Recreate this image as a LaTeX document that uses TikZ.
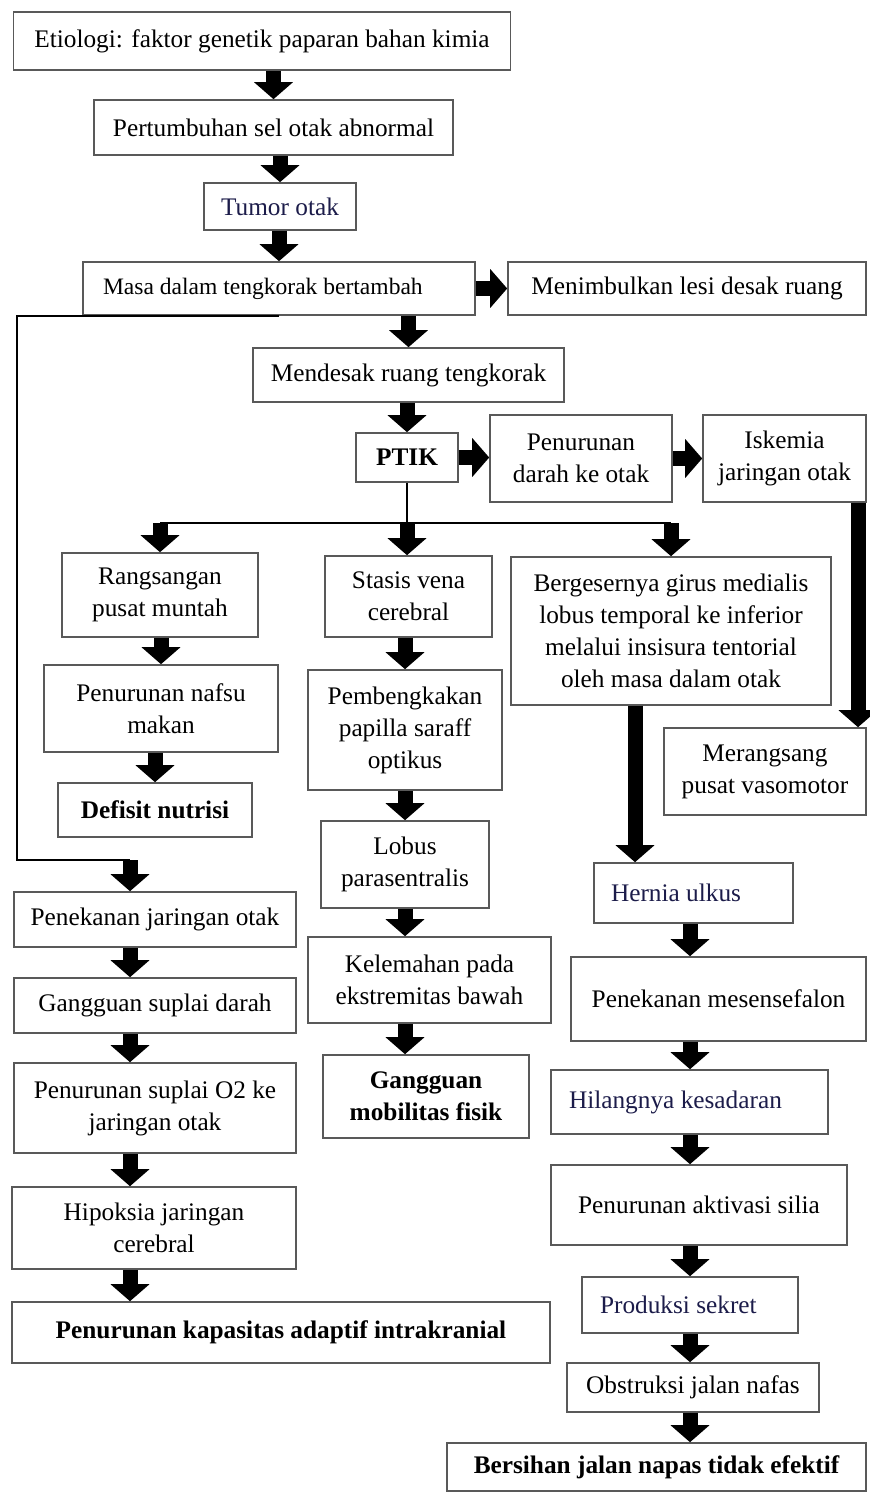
\documentclass[tikz,border=0pt]{standalone}
\usepackage{fontspec}
\setmainfont{Liberation Serif}
\usepackage{tikz}
\usetikzlibrary{arrows.meta}
\definecolor{fcnavy}{HTML}{1C1C4A}
\tikzset{
  fc/box/.style={draw=black!65, line width=0.9pt, fill=white, align=center, inner sep=2pt, font=\fontsize{14.4}{18.2}\selectfont},
  fc/key/.style={fc/box, font=\fontsize{14.4}{18.2}\selectfont\bfseries},
  fc/wh/.style 2 args={minimum width=#1*0.02cm, minimum height=#2*0.02cm},
  fc/lefttext/.style 2 args={text width=#1, inner xsep=#2, align=flush left},
  fc/arr/.style={line width=0.3cm, -{Triangle[width=0.76cm,length=0.34cm]}},
  fc/line/.style={line width=1.1pt}
}

\begin{document}
\begin{tikzpicture}[x=0.02cm, y=-0.02cm]
  \useasboundingbox (0,0) rectangle (869,1493);

  % main trunk
  \node[fc/box, fc/wh={497}{58}] (etio) at (262,41) {Etiologi: faktor genetik paparan bahan kimia};
  \node[fc/box, fc/wh={359}{55}] (pert) at (273.5,127.5) {Pertumbuhan sel otak abnormal};
  \node[fc/box, fc/wh={152}{47}, text=fcnavy] (tumor) at (280,206.5) {Tumor otak};
  \node[fc/box, fc/wh={392}{53}, fc/lefttext={7.04cm}{0.4cm}, font=\fontsize{13.4}{18.2}\selectfont] (masa) at (279,288.5) {Masa dalam tengkorak bertambah};
  \node[fc/box, fc/wh={358}{53}] (lesi) at (687,288.5) {Menimbulkan lesi desak ruang};
  \node[fc/box, fc/wh={311}{54}] (desak) at (408.5,375) {Mendesak ruang tengkorak};
  \node[fc/key, fc/wh={102}{49}] (ptik) at (407,457.5) {PTIK};
  \node[fc/box, fc/wh={182}{87}] (darah) at (581,458.5) {Penurunan\\darah ke otak};
  \node[fc/box, fc/wh={163}{87}] (iskemia) at (784.5,458.5) {Iskemia\\jaringan otak};

  % left branch
  \node[fc/box, fc/wh={196}{84}] (muntah) at (160,595) {Rangsangan\\pusat muntah};
  \node[fc/box, fc/wh={234}{87}] (nafsu) at (161,708.5) {Penurunan nafsu\\makan};
  \node[fc/key, fc/wh={194}{54}] (nutrisi) at (155,810) {Defisit nutrisi};

  % middle branch
  \node[fc/box, fc/wh={167}{81}] (stasis) at (408.5,596.5) {Stasis vena\\cerebral};
  \node[fc/box, fc/wh={194}{120}] (papil) at (405,730) {Pembengkakan\\papilla saraff\\optikus};
  \node[fc/box, fc/wh={168}{87}] (lobus) at (405,864.5) {Lobus\\parasentralis};
  \node[fc/box, fc/wh={243}{86}] (lemah) at (429.5,980) {Kelemahan pada\\ekstremitas bawah};
  \node[fc/key, fc/wh={206}{83}] (mobil) at (426,1096.5) {Gangguan\\mobilitas fisik};

  % right branch
  \node[fc/box, fc/wh={320}{148}] (geser) at (671,631) {Bergesernya girus medialis\\lobus temporal ke inferior\\melalui insisura tentorial\\oleh masa dalam otak};
  \node[fc/box, fc/wh={202}{87}] (vaso) at (765,771.5) {Merangsang\\pusat vasomotor};
  \node[fc/box, fc/wh={199}{60}, fc/lefttext={3.3cm}{0.34cm}, text=fcnavy] (hernia) at (693.5,893) {Hernia ulkus};
  \node[fc/box, fc/wh={295}{84}] (mesen) at (718.5,999) {Penekanan mesensefalon};
  \node[fc/box, fc/wh={277}{64}, fc/lefttext={4.82cm}{0.36cm}, text=fcnavy] (sadar) at (689.5,1102) {Hilangnya kesadaran};
  \node[fc/box, fc/wh={296}{80}] (silia) at (699,1205) {Penurunan aktivasi silia};
  \node[fc/box, fc/wh={216}{56}, fc/lefttext={3.6cm}{0.36cm}, text=fcnavy] (sekret) at (690,1305) {Produksi sekret};
  \node[fc/box, fc/wh={252}{49}] (obstruksi) at (693,1387.5) {Obstruksi jalan nafas};
  \node[fc/key, fc/wh={419}{48}] (bersihan) at (656.5,1467) {Bersihan jalan napas tidak efektif};

  % far left column
  \node[fc/box, fc/wh={282}{55}] (jaringan) at (155,919.5) {Penekanan jaringan otak};
  \node[fc/box, fc/wh={282}{55}] (suplai) at (155,1005.5) {Gangguan suplai darah};
  \node[fc/box, fc/wh={282}{90}] (oksigen) at (155,1108) {Penurunan suplai O2 ke\\jaringan otak};
  \node[fc/box, fc/wh={284}{82}] (hipoksia) at (154,1228) {Hipoksia jaringan\\cerebral};
  \node[fc/key, fc/wh={538}{61}] (kapasitas) at (281,1332.5) {Penurunan kapasitas adaptif intrakranial};

  \coordinate (lcol) at (130,0);
  \coordinate (ccol) at (405,0);
  \coordinate (rcol) at (690,0);
  \coordinate (rim) at (858,0);
  \coordinate (drop) at (635,0);
  \coordinate (fork) at (407,523);
  \coordinate (elbow) at (17,860);

  \draw[fc/arr] (etio.south -| pert) -- (pert.north);
  \draw[fc/arr] (pert.south -| tumor) -- (tumor.north);
  \draw[fc/arr] (tumor.south -| masa) -- (masa.north);
  \draw[fc/arr] (masa.east) -- (lesi.west);
  \draw[fc/arr] (masa.south -| desak) -- (desak.north);
  \draw[fc/arr] (desak.south -| ptik) -- (ptik.north);
  \draw[fc/arr] (ptik.east) -- (ptik.east -| darah.west);
  \draw[fc/arr] (darah.east) -- (iskemia.west);
  \draw[fc/arr] (iskemia.south -| rim) -- (vaso.north -| rim);

  % PTIK splits in three
  \draw[fc/line] (ptik.south) -- (fork);
  \draw[fc/line] (fork -| muntah) -- (fork -| geser);
  \draw[fc/arr] (fork -| muntah) -- (muntah.north);
  \draw[fc/arr] (fork) -- (fork |- stasis.north);
  \draw[fc/arr] (fork -| geser) -- (geser.north);

  \draw[fc/arr] (muntah.south -| nafsu) -- (nafsu.north);
  \draw[fc/arr] (nafsu.south -| nutrisi) -- (nutrisi.north);

  \draw[fc/arr] (stasis.south -| ccol) -- (papil.north -| ccol);
  \draw[fc/arr] (papil.south -| ccol) -- (lobus.north -| ccol);
  \draw[fc/arr] (lobus.south -| ccol) -- (lemah.north -| ccol);
  \draw[fc/arr] (lemah.south -| ccol) -- (mobil.north -| ccol);

  \draw[fc/arr] (geser.south -| drop) -- (hernia.north -| drop);
  \draw[fc/arr] (hernia.south -| rcol) -- (mesen.north -| rcol);
  \draw[fc/arr] (mesen.south -| rcol) -- (sadar.north -| rcol);
  \draw[fc/arr] (sadar.south -| rcol) -- (silia.north -| rcol);
  \draw[fc/arr] (silia.south -| rcol) -- (sekret.north -| rcol);
  \draw[fc/arr] (sekret.south -| rcol) -- (obstruksi.north -| rcol);
  \draw[fc/arr] (obstruksi.south -| rcol) -- (bersihan.north -| rcol);

  % mass effect down the left side
  \draw[fc/line] (masa.south) -| (elbow) -- (elbow -| lcol);
  \draw[fc/arr] (elbow -| lcol) -- (jaringan.north -| lcol);
  \draw[fc/arr] (jaringan.south -| lcol) -- (suplai.north -| lcol);
  \draw[fc/arr] (suplai.south -| lcol) -- (oksigen.north -| lcol);
  \draw[fc/arr] (oksigen.south -| lcol) -- (hipoksia.north -| lcol);
  \draw[fc/arr] (hipoksia.south -| lcol) -- (kapasitas.north -| lcol);
\end{tikzpicture}
\end{document}
